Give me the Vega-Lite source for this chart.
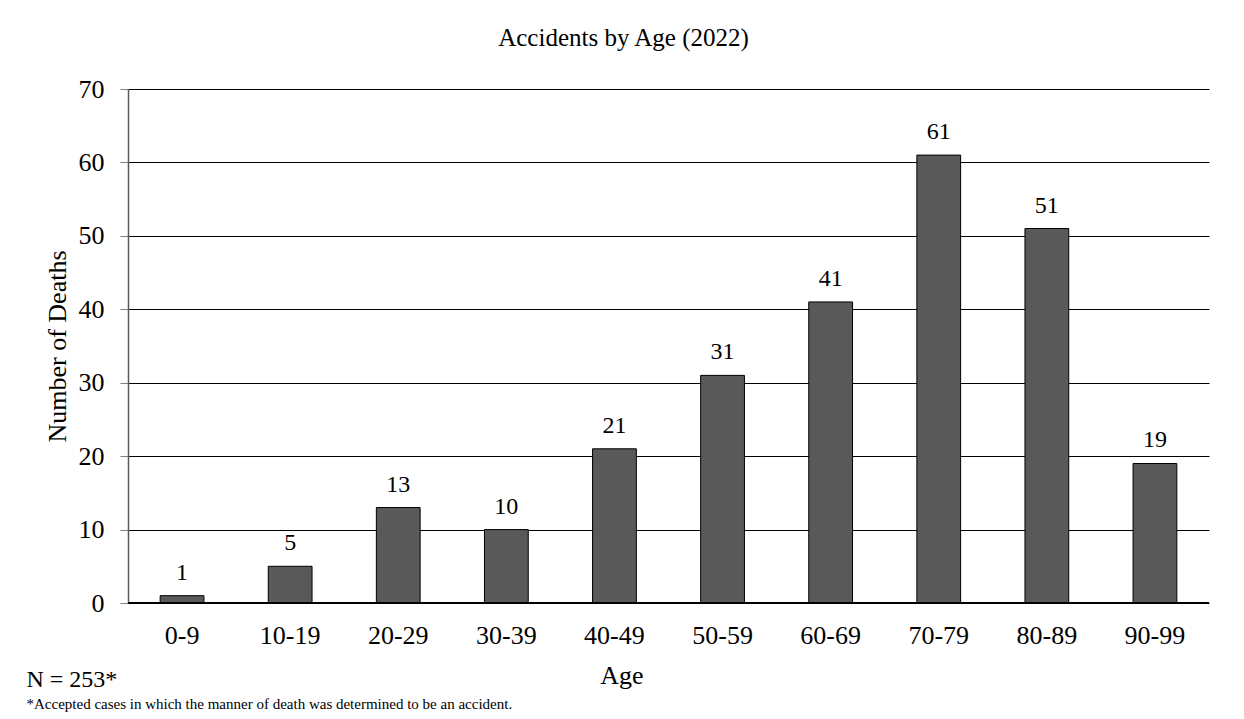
{
  "$schema": "https://vega.github.io/schema/vega-lite/v6.json",
  "width": 1081,
  "height": 514,
  "autosize": {"type": "none"},
  "padding": {"left": 128, "top": 89, "right": 35, "bottom": 116},
  "background": "white",
  "config": {
    "font": "Liberation Serif",
    "view": {"stroke": null}
  },
  "data": {
    "values": [
      {"age": "0-9", "deaths": 1},
      {"age": "10-19", "deaths": 5},
      {"age": "20-29", "deaths": 13},
      {"age": "30-39", "deaths": 10},
      {"age": "40-49", "deaths": 21},
      {"age": "50-59", "deaths": 31},
      {"age": "60-69", "deaths": 41},
      {"age": "70-79", "deaths": 61},
      {"age": "80-89", "deaths": 51},
      {"age": "90-99", "deaths": 19}
    ]
  },
  "resolve": {"axis": {"x": "independent", "y": "independent"}},
  "layer": [
    {
      "mark": {"type": "bar", "color": "#595959", "stroke": "black", "strokeWidth": 1},
      "encoding": {
        "x": {
          "field": "age", "type": "nominal", "sort": null,
          "scale": {"paddingInner": 0.595, "paddingOuter": 0.2975},
          "axis": {
            "orient": "bottom",
            "title": "Age", "labelAngle": 0, "labelFontSize": 26, "labelColor": "black",
            "labelFont": "Liberation Serif", "labelPadding": 40, "labelBaseline": "alphabetic",
            "ticks": false, "tickSize": 0, "domain": false,
            "titleFontSize": 26, "titleFontWeight": "normal", "titleColor": "black",
            "titleFont": "Liberation Serif",
            "titleX": 493.5, "titleY": 80, "titleAlign": "center", "titleBaseline": "alphabetic"
          }
        },
        "y": {
          "field": "deaths", "type": "quantitative",
          "scale": {"domain": [0, 70], "nice": false},
          "axis": {
            "orient": "left",
            "title": "Number of Deaths", "values": [0, 10, 20, 30, 40, 50, 60, 70],
            "labelFontSize": 26, "labelColor": "black", "labelFont": "Liberation Serif",
            "labelPadding": 16, "tickSize": 8, "tickColor": "#7f7f7f",
            "domainColor": "#595959", "domainWidth": 1.5,
            "grid": true, "gridColor": "black", "gridWidth": 1, "gridOpacity": 1,
            "titleFontSize": 26, "titleFontWeight": "normal", "titleColor": "black",
            "titleFont": "Liberation Serif",
            "titleX": -63, "titleY": 257, "titleAngle": 270, "titleAlign": "center", "titleBaseline": "alphabetic"
          }
        }
      }
    },
    {
      "mark": {"type": "text", "baseline": "alphabetic", "dy": -16, "fontSize": 24, "font": "Liberation Serif", "color": "black"},
      "encoding": {
        "x": {
          "field": "age", "type": "nominal", "sort": null,
          "scale": {"paddingInner": 0.595, "paddingOuter": 0.2975},
          "axis": {
            "orient": "top", "title": "Accidents by Age (2022)", "labels": false, "ticks": false,
            "domain": false, "grid": false,
            "titleFontSize": 25, "titleFontWeight": "normal", "titleColor": "black",
            "titleFont": "Liberation Serif",
            "titleX": 495, "titleY": -44, "titleAlign": "center", "titleBaseline": "alphabetic"
          }
        },
        "y": {
          "field": "deaths", "type": "quantitative",
          "scale": {"domain": [0, 70], "nice": false},
          "axis": {
            "orient": "left", "title": "*Accepted cases in which the manner of death was determined to be an accident.",
            "labels": false, "ticks": false, "domain": false, "grid": false,
            "titleFontSize": 15, "titleFontWeight": "normal", "titleColor": "black",
            "titleFont": "Liberation Serif", "titleAngle": 0,
            "titleX": -102, "titleY": 619, "titleAlign": "left", "titleBaseline": "alphabetic"
          }
        },
        "text": {"field": "deaths", "type": "quantitative"}
      }
    },
    {
      "mark": {"type": "rule", "color": "black", "strokeWidth": 1.5},
      "encoding": {
        "y": {
          "datum": 0, "type": "quantitative",
          "axis": {
            "orient": "left", "title": "N = 253*",
            "labels": false, "ticks": false, "domain": false, "grid": false,
            "titleFontSize": 24, "titleFontWeight": "normal", "titleColor": "black",
            "titleFont": "Liberation Serif", "titleAngle": 0,
            "titleX": -102, "titleY": 597, "titleAlign": "left", "titleBaseline": "alphabetic"
          }
        }
      }
    }
  ]
}
